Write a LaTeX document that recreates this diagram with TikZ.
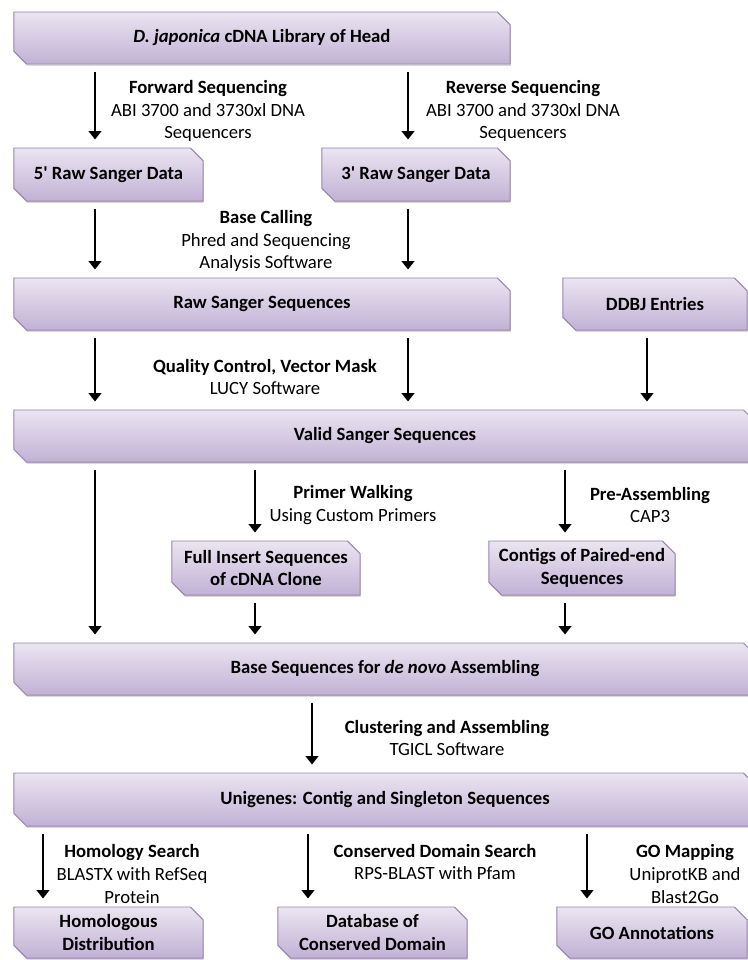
\documentclass[tikz,border=0pt]{standalone}
\usepackage{fontspec}
\setmainfont{Carlito}
\usetikzlibrary{arrows.meta,shapes.misc,shadows}

\definecolor{boxtop}{HTML}{EBE5F1}
\definecolor{boxbot}{HTML}{C1B1D5}
\definecolor{boxline}{HTML}{9884AD}

\tikzset{
	stage/.style={chamfered rectangle, chamfered rectangle corners={north east,south west},
		chamfered rectangle sep=4.5pt, inner sep=0pt, draw=boxline, line width=0.7pt,
		top color=boxtop, bottom color=boxbot, align=center,
		font=\fontsize{13.3}{16.3}\selectfont\bfseries,
		drop shadow={opacity=0.3, shadow xshift=0.5pt, shadow yshift=-1.3pt}},
	note/.style={align=center, inner sep=0pt, font=\fontsize{13.3}{16.3}\selectfont},
	flow/.style={-{Triangle[width=9pt,length=6pt]}, line width=2.1pt,
		shorten <=0.18cm, shorten >=0.2cm}
}

\begin{document}
\begin{tikzpicture}[x=0.025cm, y=-0.025cm]
		\useasboundingbox (0,0) rectangle (748,960);

		%Boxes
		\node[stage, minimum width=12.4cm, minimum height=1.3cm] (lib) at (262,38) {\textit{D. japonica} cDNA Library of Head};
		\node[stage, minimum width=4.725cm, minimum height=1.325cm] (raw5) at (108.5,174.5) {5\textquotesingle{} Raw Sanger Data};
		\node[stage, minimum width=4.7cm, minimum height=1.325cm] (raw3) at (416,174.5) {3\textquotesingle{} Raw Sanger Data};
		\node[stage, minimum width=12.4cm, minimum height=1.3cm] (rawseq) at (262,304) {Raw Sanger Sequences};
		\node[stage, minimum width=4.6cm, minimum height=1.3cm] (ddbj) at (655,304) {DDBJ Entries};
		\node[stage, minimum width=18.55cm, minimum height=1.3cm] (valid) at (385,436) {Valid Sanger Sequences};
		\node[stage, minimum width=4.7cm, minimum height=1.35cm] (full) at (266,568) {Full Insert Sequences\\of cDNA Clone};
		\node[stage, minimum width=4.65cm, minimum height=1.35cm] (contig) at (582,568) {Contigs of Paired-end\\Sequences};
		\node[stage, minimum width=18.55cm, minimum height=1.3cm] (base) at (385,669) {Base Sequences for \textit{de novo} Assembling};
		\node[stage, minimum width=18.55cm, minimum height=1.325cm] (unig) at (385,799.5) {Unigenes: Contig and Singleton Sequences};
		\node[stage, minimum width=4.725cm, minimum height=1.275cm] (homol) at (108.5,932.5) {Homologous\\Distribution};
		\node[stage, minimum width=4.725cm, minimum height=1.275cm] (cdd) at (372.5,932.5) {Database of\\Conserved Domain};
		\node[stage, minimum width=4.75cm, minimum height=1.275cm] (goann) at (652,932.5) {GO Annotations};

		%Arrow columns
		\coordinate (a1) at (95,0);
		\coordinate (a2) at (408,0);
		\coordinate (a3) at (647,0);
		\coordinate (a4) at (255,0);
		\coordinate (a5) at (565,0);
		\coordinate (a6) at (312,0);
		\coordinate (a7) at (43,0);
		\coordinate (a8) at (308,0);
		\coordinate (a9) at (587,0);

		\draw[flow] (lib.south -| a1) -- (raw5.north -| a1);
		\draw[flow] (lib.south -| a2) -- (raw3.north -| a2);
		\draw[flow] (raw5.south -| a1) -- (rawseq.north -| a1);
		\draw[flow] (raw3.south -| a2) -- (rawseq.north -| a2);
		\draw[flow] (rawseq.south -| a1) -- (valid.north -| a1);
		\draw[flow] (rawseq.south -| a2) -- (valid.north -| a2);
		\draw[flow] (ddbj.south -| a3) -- (valid.north -| a3);
		\draw[flow] (valid.south -| a1) -- (base.north -| a1);
		\draw[flow] (valid.south -| a4) -- (full.north -| a4);
		\draw[flow] (valid.south -| a5) -- (contig.north -| a5);
		\draw[flow] (full.south -| a4) -- (base.north -| a4);
		\draw[flow] (contig.south -| a5) -- (base.north -| a5);
		\draw[flow] (base.south -| a6) -- (unig.north -| a6);
		\draw[flow] (unig.south -| a7) -- (homol.north -| a7);
		\draw[flow] (unig.south -| a8) -- (cdd.north -| a8);
		\draw[flow] (unig.south -| a9) -- (goann.north -| a9);

		%Labels
		\node[note] (fwd) at (208,111) {\textbf{Forward Sequencing}\\ABI 3700 and 3730xl DNA\\Sequencers};
		\node[note] (rev) at (523,111) {\textbf{Reverse Sequencing}\\ABI 3700 and 3730xl DNA\\Sequencers};
		\node[note] (call) at (266,241) {\textbf{Base Calling}\\Phred and Sequencing\\Analysis Software};
		\node[note] (qc) at (265,377) {\textbf{Quality Control, Vector Mask}\\LUCY Software};
		\node[note] (walk) at (353,505) {\textbf{Primer Walking}\\Using Custom Primers};
		\node[note] (preasm) at (650,505) {\textbf{Pre-Assembling}\\CAP3};
		\node[note] (clust) at (447,738) {\textbf{Clustering and Assembling}\\TGICL Software};
		\node[note] (homsrch) at (132,874) {\textbf{Homology Search}\\BLASTX with RefSeq\\Protein};
		\node[note] (cddsrch) at (435,862) {\textbf{Conserved Domain Search}\\RPS-BLAST with Pfam};
		\node[note] (gomap) at (685,874) {\textbf{GO Mapping}\\UniprotKB and\\Blast2Go};
\end{tikzpicture}
\end{document}
